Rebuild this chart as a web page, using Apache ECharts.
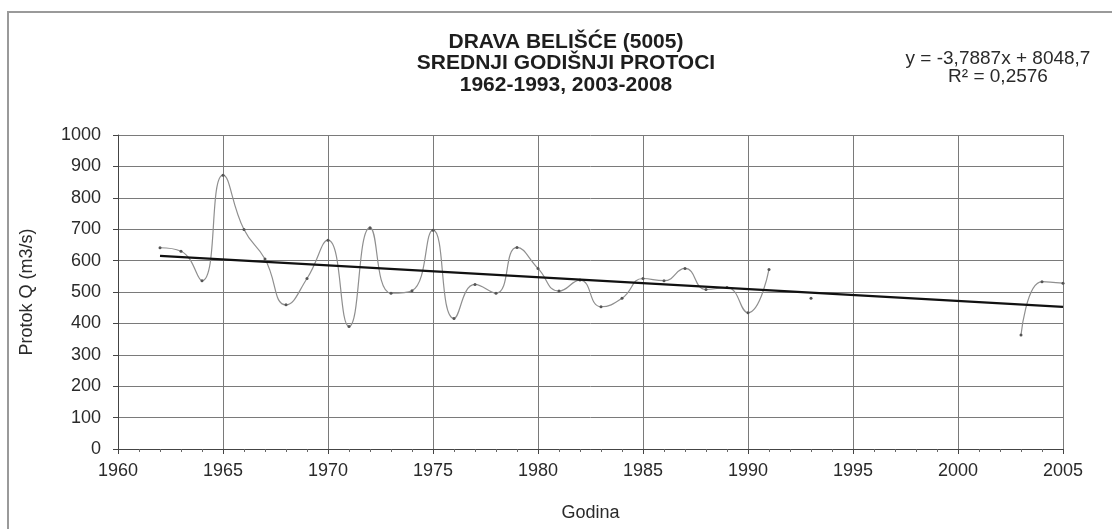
<!DOCTYPE html>
<html>
<head>
<meta charset="utf-8">
<script src="https://cdn.jsdelivr.net/npm/echarts@6/dist/echarts.min.js"></script>
<style>
html,body{margin:0;padding:0;background:#fff;}
#c{width:1112px;height:529px;}
</style>
</head>
<body>
<div id="c"></div>
<script>
// ---- data ----
const years = [1962,1963,1964,1965,1966,1967,1968,1969,1970,1971,1972,1973,1974,1975,1976,1977,1978,1979,1980,1981,1982,1983,1984,1985,1986,1987,1988,1989,1990,1991,1992,1993,
               1994,2003,2004,2005];
const flows = [641,630,536,872,699,605,459,543,665,390,705,496,504,697,416,524,496,642,575,503,538,453,480,543,536,575,508,514,434,572,null,480,
               null,363,533,528];
const titleLines = ['DRAVA BELIŠĆE (5005)', 'SREDNJI GODIŠNJI PROTOCI', '1962-1993, 2003-2008'];
const trendSlope = -3.7887;
const trendIntercept = 8048.7;
const trendRange = [1962, 2005];
const equationLines = ['y = -3,7887x + 8048,7', 'R² = 0,2576'];
const xTicks = {min: 1960, max: 2005, interval: 5};
const yTicks = {min: 0, max: 1000, interval: 100};

const FONT = '"Liberation Sans", Arial, sans-serif';
const TXT = '#2a2a2a';

const flowData = years.map((y, i) => [y, flows[i]]);
const trendData = trendRange.map(x => [x, trendSlope * x + trendIntercept]);

const chart = echarts.init(document.getElementById('c'), null, {renderer: 'canvas'});
chart.setOption({
  animation: false,
  backgroundColor: '#fff',
  grid: {left: 118, right: 49, top: 135, bottom: 80, containLabel: false},
  xAxis: {
    type: 'value', min: xTicks.min, max: xTicks.max, interval: xTicks.interval,
    name: 'Godina', nameLocation: 'middle', nameGap: 55,
    nameTextStyle: {fontFamily: FONT, fontSize: 18, color: TXT},
    axisLine: {show: true, lineStyle: {color: '#444', width: 1}},
    axisTick: {show: true, length: 5, lineStyle: {color: '#444'}},
    minorTick: {show: true, splitNumber: 5, length: 3, lineStyle: {color: '#666'}},
    axisLabel: {fontFamily: FONT, fontSize: 18, color: TXT, margin: 13, formatter: v => String(v)},
    splitLine: {show: true, lineStyle: {color: '#7a7a7a', width: 1}}
  },
  yAxis: {
    type: 'value', min: yTicks.min, max: yTicks.max, interval: yTicks.interval,
    name: 'Protok Q (m3/s)', nameLocation: 'middle', nameGap: 82, nameRotate: 90,
    nameTextStyle: {fontFamily: FONT, fontSize: 18, color: TXT},
    axisLine: {show: true, lineStyle: {color: '#444', width: 1}},
    axisTick: {show: true, length: 5, lineStyle: {color: '#444'}},
    axisLabel: {fontFamily: FONT, fontSize: 18, color: TXT, margin: 17, formatter: v => String(v)},
    splitLine: {show: true, lineStyle: {color: '#7a7a7a', width: 1}}
  },
  series: [
    {
      type: 'line', data: flowData, smooth: 0.5, connectNulls: false,
      lineStyle: {color: '#8f8f8f', width: 1.2},
      symbol: 'circle', symbolSize: 3, showSymbol: true,
      itemStyle: {color: '#555'}, z: 3
    },
    {
      type: 'line', data: trendData, smooth: false, symbol: 'none',
      lineStyle: {color: '#111', width: 2.2}, z: 4
    }
  ],
  graphic: [
    {type: 'rect', shape: {x: 8, y: 12, width: 1200, height: 700}, silent: true,
     style: {fill: 'none', stroke: '#9a9a9a', lineWidth: 2}},
    ...titleLines.map((t, i) => ({
      type: 'text', x: 566, y: 42 + i * 21.6, silent: true,
      style: {text: t, fontFamily: FONT, fontWeight: 'bold', fontSize: 21, fill: '#1e1e1e',
              align: 'center', verticalAlign: 'middle'}
    })),
    ...equationLines.map((t, i) => ({
      type: 'text', x: 998, y: 58.5 + i * 18, silent: true,
      style: {text: t, fontFamily: FONT, fontSize: 19, fill: TXT,
              align: 'center', verticalAlign: 'middle'}
    }))
  ]
});
</script>
</body>
</html>
